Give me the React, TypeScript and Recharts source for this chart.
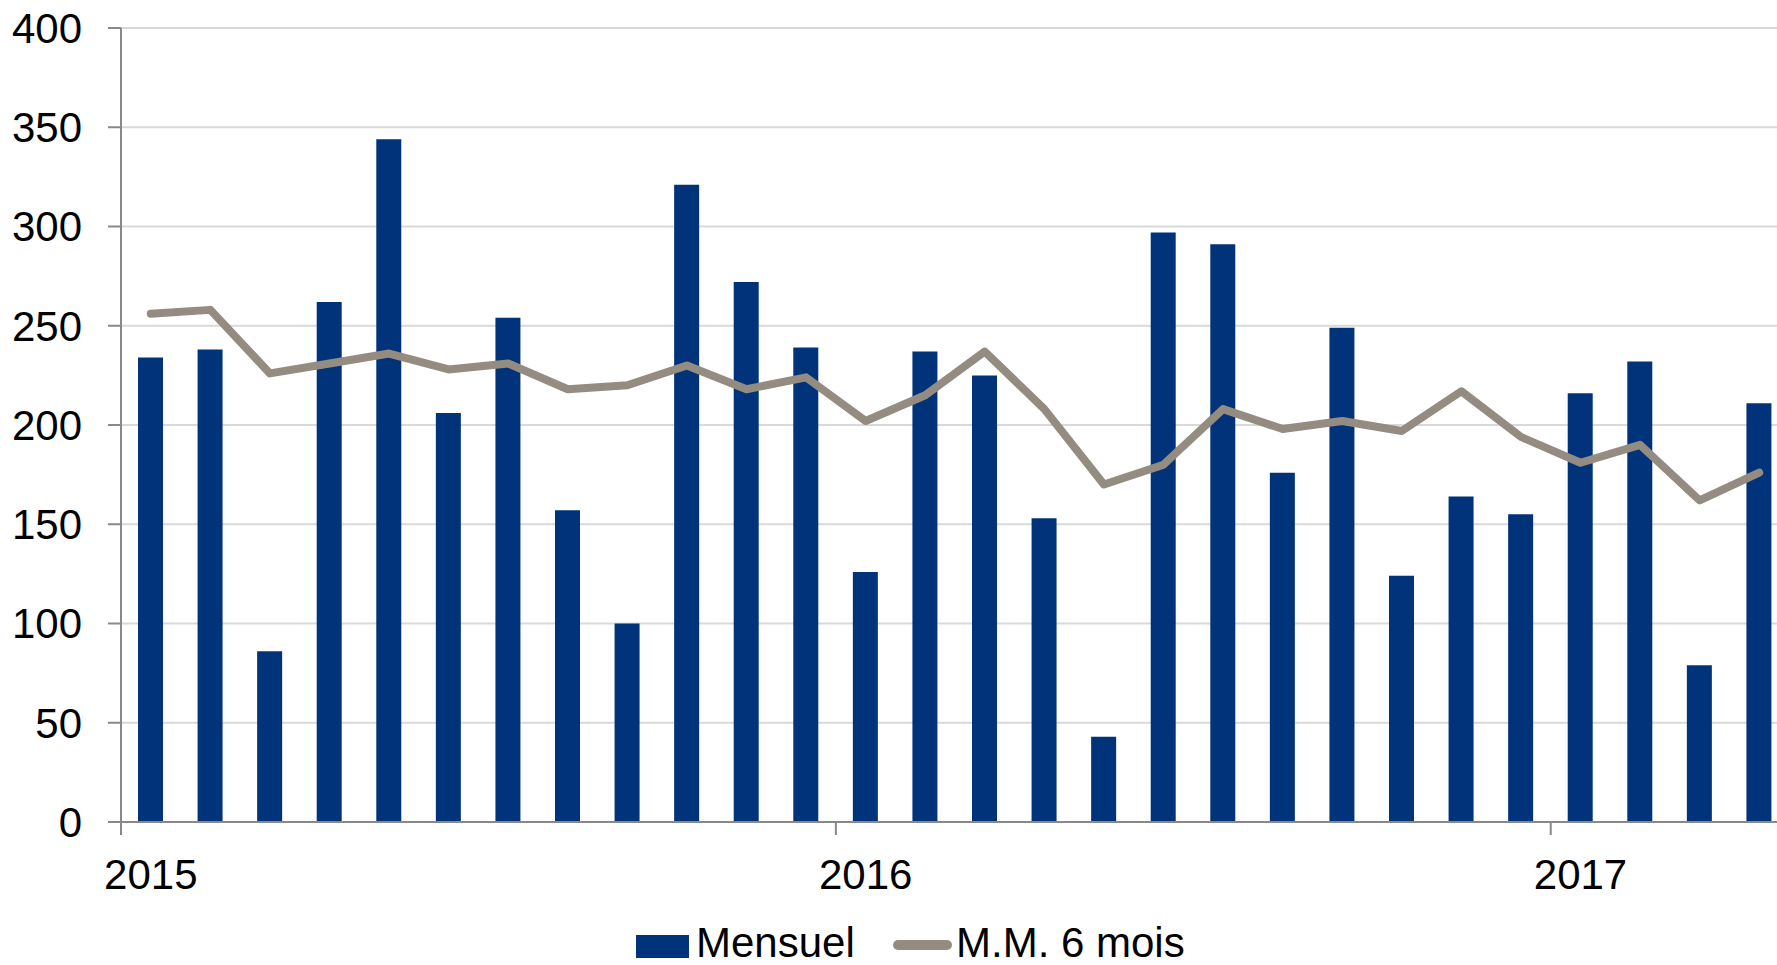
import React from "react";
import {
  ComposedChart,
  Bar,
  Line,
  XAxis,
  YAxis,
  CartesianGrid,
  Legend,
} from "recharts";

const months: string[] = [
  "2015-01", "2015-02", "2015-03", "2015-04", "2015-05", "2015-06",
  "2015-07", "2015-08", "2015-09", "2015-10", "2015-11", "2015-12",
  "2016-01", "2016-02", "2016-03", "2016-04", "2016-05", "2016-06",
  "2016-07", "2016-08", "2016-09", "2016-10", "2016-11", "2016-12",
  "2017-01", "2017-02", "2017-03", "2017-04",
];

const mensuel: number[] = [
  234, 238, 86, 262, 344, 206, 254, 157, 100, 321, 272, 239,
  126, 237, 225, 153, 43, 297, 291, 176, 249, 124, 164, 155,
  216, 232, 79, 211,
];

const moyenneMobile: number[] = [
  256, 258, 226, 231, 236, 228, 231, 218, 220, 230, 218, 224,
  202, 215, 237, 208, 170, 180, 208, 198, 202, 197, 217, 194,
  181, 190, 162, 176,
];

const yTicks: number[] = [0, 50, 100, 150, 200, 250, 300, 350, 400];

const data = months.map((m, i) => ({
  month: m,
  mensuel: mensuel[i],
  mm: moyenneMobile[i],
}));

const FONT = "'Liberation Sans', Arial, sans-serif";
const BAR_COLOR = "#00337a";
const LINE_COLOR = "#948c81";
const AXIS_COLOR = "#898989";

const CHART_W = 1790;
const CHART_H = 965;
const PLOT_LEFT = 121;
const PLOT_TOP = 28;
const PLOT_BOTTOM = 822;
const PLOT_RIGHT = CHART_W - 1;
const BAND = (PLOT_RIGHT - PLOT_LEFT) / months.length;

const YearTick = (props: any) => {
  const { x, payload, index } = props;
  if (index % 12 !== 0) return null;
  const year = String(payload.value).slice(0, 4);
  const tx = x - BAND / 2;
  return (
    <g>
      <line x1={tx} x2={tx} y1={PLOT_BOTTOM} y2={PLOT_BOTTOM + 13} stroke={AXIS_COLOR} strokeWidth={2} />
      <text x={x} y={889} textAnchor="middle" fontSize={42} fontFamily={FONT} fill="#000">
        {year}
      </text>
    </g>
  );
};

// legend drawn by hand so it sits where the original has it
const LegendContent = () => (
  <svg width={1777} height={45} style={{ display: "block" }}>
    <rect x={636} y={15} width={53} height={23} fill={BAR_COLOR} />
    <text x={696} y={37} fontSize={42} fontFamily={FONT} fill="#000">
      Mensuel
    </text>
    <line x1={898} x2={947} y1={25} y2={25} stroke={LINE_COLOR} strokeWidth={10} strokeLinecap="round" />
    <text x={956} y={37} fontSize={42} fontFamily={FONT} fill="#000">
      M.M. 6 mois
    </text>
  </svg>
);

export default function App() {
  return (
    <div
      style={{
        position: "fixed",
        left: 0,
        top: 0,
        width: 1777,
        height: 965,
        overflow: "hidden",
        background: "#fff",
      }}
    >
      <ComposedChart
        width={CHART_W}
        height={CHART_H}
        data={data}
        margin={{ top: PLOT_TOP, right: CHART_W - PLOT_RIGHT, bottom: 63, left: 0 }}
      >
        <CartesianGrid vertical={false} stroke="#d9d9d9" strokeWidth={2} />
        <XAxis
          dataKey="month"
          interval={0}
          height={80}
          tickLine={false}
          axisLine={{ stroke: AXIS_COLOR, strokeWidth: 2 }}
          tick={<YearTick />}
        />
        <YAxis
          width={PLOT_LEFT}
          domain={[0, 400]}
          ticks={yTicks}
          tickSize={13}
          tickMargin={26}
          axisLine={{ stroke: AXIS_COLOR, strokeWidth: 2 }}
          tickLine={{ stroke: AXIS_COLOR, strokeWidth: 2 }}
          tick={{ fontSize: 42, fontFamily: FONT, fill: "#000" }}
        />
        <Bar dataKey="mensuel" name="Mensuel" fill={BAR_COLOR} barSize={25} isAnimationActive={false} />
        <Line
          dataKey="mm"
          name="M.M. 6 mois"
          type="linear"
          stroke={LINE_COLOR}
          strokeWidth={8}
          strokeLinecap="round"
          strokeLinejoin="round"
          dot={false}
          activeDot={false}
          isAnimationActive={false}
        />
        <Legend
          layout="horizontal"
          verticalAlign="middle"
          align="center"
          content={<LegendContent />}
          wrapperStyle={{ top: 920, left: 0, width: 1777, height: 45 }}
        />
      </ComposedChart>
    </div>
  );
}
